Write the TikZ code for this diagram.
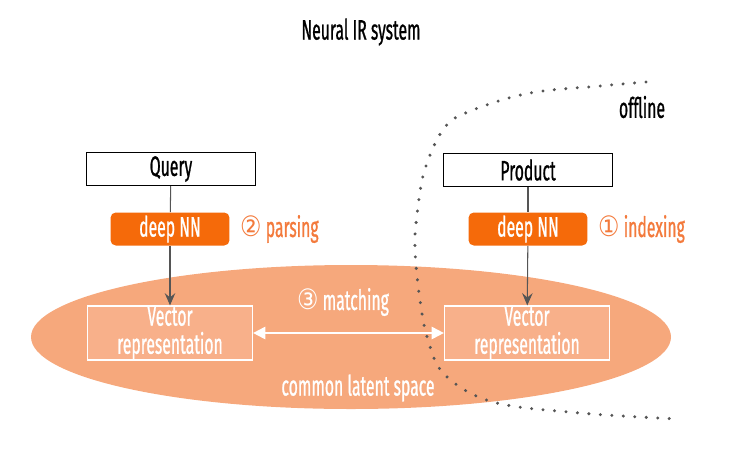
\documentclass[tikz,border=0pt]{standalone}
\usepackage{fontspec}
\setmainfont[FakeStretch=0.56, FakeBold=0.8, BoldFeatures={FakeBold=0.8}]{Fira Sans}
\newfontfamily\circfont[FakeStretch=0.85]{DejaVu Sans}
\usetikzlibrary{shapes, arrows.meta, positioning}
\definecolor{nnorange}{HTML}{F56A0A}
\definecolor{lblorange}{HTML}{F37A3C}
\definecolor{latent}{HTML}{F6A87C}
\definecolor{vecfill}{HTML}{F8B08A}
\definecolor{linegray}{HTML}{555555}
\newcommand{\txt}{\fontsize{16}{16}\selectfont}
\tikzstyle{inputbox} = [draw=black, fill=white, line width=0.7pt, rectangle, minimum width=3.38cm, minimum height=0.66cm, inner sep=0pt, font=\txt]
\tikzstyle{deepnn} = [fill=nnorange, text=white, rectangle, rounded corners=3pt, minimum width=2.38cm, minimum height=0.66cm, inner sep=0pt, font=\txt]
\tikzstyle{vecbox} = [draw=white, fill=vecfill, line width=0.7pt, text=white, rectangle, minimum width=3.3cm, minimum height=1.08cm, inner sep=0pt, align=center, font=\txt]
\tikzstyle{steplabel} = [text=lblorange, inner sep=0pt, font=\txt]
\tikzstyle{flow} = [draw=linegray, line width=0.6pt, -{Stealth[length=7pt, width=6pt, inset=2.5pt]}]

\begin{document}
\begin{tikzpicture}[x=0.02cm, y=-0.02cm]
	\useasboundingbox (0,0) rectangle (731,454);
	% common latent space
	\fill[latent] (351,337) ellipse [x radius=320, y radius=72];
	% offline border
	\draw[linegray, line width=1.9pt, line cap=round, dash pattern=on 0pt off 0.23cm]
		plot[smooth, tension=0.6] coordinates {(646,82) (600,86) (530,93) (473,110) (445,127) (425,169) (417,215) (415,250) (420,300) (428,340) (445,375) (493,402) (580,413) (678,419)};
	\node[font=\txt] (title) at (361,32) {Neural IR system};
	\node[font=\txt] (offline) at (642,107) {offline};
	% query side
	\node[inputbox] (query) at (171,169) {Query};
	\node[deepnn] (nnq) at (170,229) {deep NN};
	\node[steplabel, right=0.2cm of nnq] (parsing) {{\circfont ②} parsing};
	\node[vecbox] (vecq) at (170,333) {Vector\\representation};
	% product side
	\node[inputbox] (product) at (528,170) {Product};
	\node[deepnn] (nnp) at (528,229) {deep NN};
	\node[steplabel, right=0.2cm of nnp] (indexing) {{\circfont ①} indexing};
	\node[vecbox] (vecp) at (527,333) {Vector\\representation};
	% connectors
	\draw[linegray, line width=0.6pt] (query) -- (nnq);
	\draw[flow] (nnq) -- (vecq);
	\draw[linegray, line width=0.6pt] (product) -- (nnp);
	\draw[flow] (nnp) -- (vecp);
	\draw[white, line width=1.2pt, {Triangle[length=7pt, width=7pt]}-{Triangle[length=7pt, width=7pt]}] (vecq) -- (vecp);
	\node[text=white, font=\txt] (matching) at (343,302) {{\circfont ③} matching};
	\node[text=white, font=\txt] (space) at (358,388) {common latent space};
\end{tikzpicture}
\end{document}
